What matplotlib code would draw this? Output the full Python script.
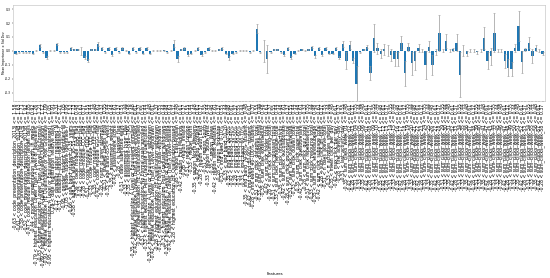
import matplotlib
matplotlib.use('Agg')
import matplotlib.pyplot as plt
import numpy as np

# ---------------- data ----------------
imp_g1 = [-0.02, -0.01, -0.01, -0.01, -0.01, -0.02, 0.0, 0.04, -0.01, -0.05, 0.0, 0.0, 0.05, -0.01,
          -0.01, -0.01, 0.02, 0.01, 0.01, 0.0, -0.05, -0.07, 0.01, 0.01, 0.05, 0.02, -0.01, 0.02,
          -0.03, 0.02, -0.01, 0.02, 0.0, -0.02]
imp_g2 = [0.02, -0.01, 0.02, -0.02, 0.02, -0.02, 0.0, 0.0, 0.0, 0.005, -0.01, 0.0, 0.05, -0.06,
          0.01, 0.02, -0.03, -0.02, 0.0, 0.02, -0.03, -0.01, 0.02, 0.0, 0.0, 0.01, 0.02, -0.02,
          -0.05, -0.02, -0.01, 0.0, 0.0, 0.0, -0.01, 0.0, 0.16, -0.01]
imp_g3 = [0.0, -0.06, -0.01, 0.01, 0.01, -0.01, -0.03, 0.02, -0.05, -0.02, 0.0, 0.01, 0.0, 0.01,
          0.03, -0.04, 0.02, -0.03, 0.02, -0.02, -0.02, 0.02, -0.05, 0.05, -0.07, 0.04, -0.07,
          -0.24, -0.01, 0.01, 0.03, -0.16, 0.09, 0.02, -0.02, 0.01]
imp_g4 = [0.0, -0.03, -0.06, -0.06, 0.06, -0.16, 0.03, -0.09, -0.07, 0.02, 0.0, -0.1, 0.03, -0.1,
          -0.01, 0.13, 0.0, 0.07, 0.0, 0.01, 0.06, -0.17, 0.0, -0.02, 0.0, 0.0, -0.01, 0.0, 0.09,
          -0.07, -0.04, 0.13, 0.0, 0.0, -0.07, -0.12, -0.13, 0.02, 0.18, -0.08, 0.01, 0.06, -0.04,
          0.02, 0.0, -0.02]

std_g1 = [0.005, 0.004, 0.004, 0.004, 0.004, 0.006, 0.003, 0.012, 0.005, 0.012, 0.003, 0.003, 0.01,
          0.004, 0.004, 0.004, 0.006, 0.004, 0.004, 0.03, 0.01, 0.012, 0.004, 0.004, 0.012, 0.006,
          0.004, 0.006, 0.008, 0.006, 0.004, 0.006, 0.004, 0.006]
std_g2 = [0.006, 0.004, 0.006, 0.006, 0.006, 0.006, 0.003, 0.003, 0.003, 0.003, 0.004, 0.003, 0.025,
          0.02, 0.004, 0.006, 0.008, 0.006, 0.003, 0.006, 0.008, 0.004, 0.006, 0.003, 0.003, 0.004,
          0.006, 0.006, 0.015, 0.006, 0.004, 0.003, 0.003, 0.003, 0.004, 0.004, 0.03, 0.004]
std_g3 = [0.08, 0.1, 0.004, 0.004, 0.004, 0.004, 0.008, 0.006, 0.012, 0.006, 0.003, 0.004, 0.003,
          0.004, 0.008, 0.01, 0.006, 0.008, 0.006, 0.006, 0.006, 0.006, 0.012, 0.02, 0.06, 0.03,
          0.02, 0.13, 0.004, 0.004, 0.01, 0.05, 0.1, 0.04, 0.03, 0.04]
std_g4 = [0.04, 0.04, 0.05, 0.05, 0.05, 0.09, 0.03, 0.08, 0.07, 0.03, 0.01, 0.1, 0.04, 0.07, 0.02,
          0.13, 0.01, 0.05, 0.01, 0.01, 0.06, 0.16, 0.04, 0.02, 0.01, 0.01, 0.01, 0.01, 0.08, 0.06,
          0.06, 0.14, 0.01, 0.01, 0.05, 0.06, 0.05, 0.03, 0.11, 0.08, 0.01, 0.04, 0.05, 0.02, 0.01,
          0.01]

importance = imp_g1 + imp_g2 + imp_g3 + imp_g4
std_dev = std_g1 + std_g2 + std_g3 + std_g4

# ---------------- tick labels ----------------
lower_bounds = ['-0.35', '-0.42', '-0.28', '-0.51', '-0.33']
upper_bounds = ['0.48', '0.61', '0.37', '0.55', '0.44']

labels_a = ['-0.63 < code_presentation_description_2013J <= 1.58',
            '-0.61 < code_presentation_description_2014B <= 1.63',
            '-0.58 < code_presentation_description_2014J <= 1.71',
            '-0.52 < code_presentation_description_2013B <= 1.92',
            '-0.47 < code_module_presentation_length_days <= 0.85',
            '-0.44 < module_presentation_length_in_weeks <= 0.92']
labels_b = ['-0.79 < highest_education_Lower Than A Level or Equivalent <= 1.26',
            '-0.83 < highest_education_Lower Than A Level (No Formal) <= 1.21',
            '-0.89 < highest_education_A Level or Equivalent Qualification <= 1.12',
            '-0.91 < highest_education_HE Qualification or Post Graduate <= 1.09',
            '-0.95 < highest_education_A Level or Equivalent (registered) <= 1.05']
labels_c = ['0.28 < date_registration_relative_days <= 0.91',
            '-0.72 < disability_status_registered_N <= 0.31',
            '-0.31 < disability_status_registered_Y <= 3.21',
            '-0.95 < gender_student_identified_M <= 1.05',
            '-1.05 < gender_student_identified_F <= 0.95',
            '-0.66 < age_band_student_0-35_years <= 1.52',
            '-0.58 < age_band_student_35-55_years <= 1.73']
names_d = ['code_module_AAA_flag', 'code_module_BBB_flag', 'code_module_CCC_flag',
           'code_module_DDD_flag', 'code_module_EEE_flag', 'code_module_FFF_flag',
           'code_module_GGG_flag', 'num_of_prev_attempts', 'studied_credits_total',
           'age_band_55<=_years', 'assessment_weight', 'assessment_score', 'is_banked_flag',
           'date_submitted_days', 'assessment_type_CMA', 'assessment_type_TMA']
names_e = ['highest_education_A Level or Equivalent_enrolled',
           'highest_education_Lower Than A Level_enrolled',
           'highest_education_HE Qualification_enrolled',
           'highest_education_No Formal quals_enrolled',
           'highest_education_Post Graduate Qualification',
           'highest_education_A Level or Equivalent_withdrawn',
           'highest_education_Lower Than A Level_withdrawn',
           'highest_education_HE Qualification_withdrawn',
           'highest_education_No Formal quals_withdrawn',
           'highest_education_Post Graduate_withdrawn',
           'highest_education_A Level or Equivalent_passed',
           'highest_education_Lower Than A Level_passed',
           'highest_education_HE Qualification_passed']
names_f = ['region_East Anglian', 'region_East Midlands', 'region_Ireland', 'region_London',
           'region_North', 'region_North Western', 'region_Scotland', 'region_South East',
           'region_South', 'region_South West', 'region_Wales', 'region_West Midlands',
           'region_Yorkshire', 'imd_band_0-10%', 'imd_band_10-20', 'imd_band_20-30%',
           'imd_band_30-40%', 'imd_band_40-50%', 'imd_band_50-60%', 'imd_band_60-70%']
names_g = ['imd_band_70-80%_student', 'imd_band_80-90%_student', 'imd_band_90-100%_student',
           'sum_click_dataplus_total', 'sum_click_dualpane_total', 'sum_click_externalquiz',
           'sum_click_folder_total', 'sum_click_forumng_total', 'sum_click_glossary_total',
           'sum_click_homepage_total', 'sum_click_htmlactivity', 'sum_click_oucollaborate',
           'sum_click_oucontent_total', 'sum_click_ouelluminate', 'sum_click_ouwiki_total',
           'sum_click_page_total', 'sum_click_questionnaire', 'sum_click_quiz_total',
           'sum_click_repeatactivity', 'sum_click_resource_total', 'sum_click_sharedsubpage',
           'sum_click_subpage_total', 'sum_click_url_total', 'n_days_active_total',
           'n_activities_visited', 'mean_click_per_day', 'max_click_per_day',
           'first_activity_day', 'last_activity_day']
week_numbers = list(range(1, 59))

labels_d = [f'{lower_bounds[i % 5]} < {n} <= {upper_bounds[i % 5]}' for i, n in enumerate(names_d)]
labels_e = [f'{lower_bounds[i % 5]} < {n} <= {upper_bounds[i % 5]}' for i, n in enumerate(names_e)]
labels_f = [f'{lower_bounds[i % 5]} < {n} <= {upper_bounds[i % 5]}' for i, n in enumerate(names_f)]
labels_g = [f'{lower_bounds[i % 5]} < {n} <= {upper_bounds[i % 5]}' for i, n in enumerate(names_g)]
labels_h = [f'{lower_bounds[i % 5]} < sum_clicks_week_{w:02d} <= {upper_bounds[i % 5]}'
            for i, w in enumerate(week_numbers)]

feature_labels = labels_a + labels_b + labels_c + labels_d + labels_e + labels_f + labels_g + labels_h
feature_labels = feature_labels[:len(importance)]

y_ticks = [-0.3, -0.2, -0.1, 0.0, 0.1, 0.2, 0.3]

# ---------------- plot ----------------
fig = plt.figure(figsize=(5.5, 2.78), dpi=100)
ax = fig.add_axes([0.024, 0.637, 0.967, 0.345])
x = np.arange(len(importance))
ax.bar(x, importance, yerr=std_dev, width=0.7, color='#1f77b4', ecolor='#999999',
       error_kw=dict(elinewidth=0.5, capsize=0.8, capthick=0.4))
ax.set_xlim(-0.7, len(importance) - 0.3)
ax.set_ylim(-0.36, 0.33)
ax.set_yticks(y_ticks)
ax.set_yticklabels([f'{t:.1f}' for t in y_ticks], fontsize=2.2)
ax.set_xticks(x)
ax.set_xticklabels(feature_labels, rotation=90, fontsize=3.3)
ax.tick_params(axis='both', length=1, width=0.3, pad=0.8)
for s in ax.spines.values():
    s.set_linewidth(0.4)
    s.set_color('#bbbbbb')
fig.text(0.0065, 0.81, 'Mean Importance ± Std Dev', fontsize=2.2, rotation=90,
         ha='center', va='center')
fig.text(0.5, 0.012, 'Features', fontsize=2.8, ha='center')
fig.savefig('out.png', dpi=100)
